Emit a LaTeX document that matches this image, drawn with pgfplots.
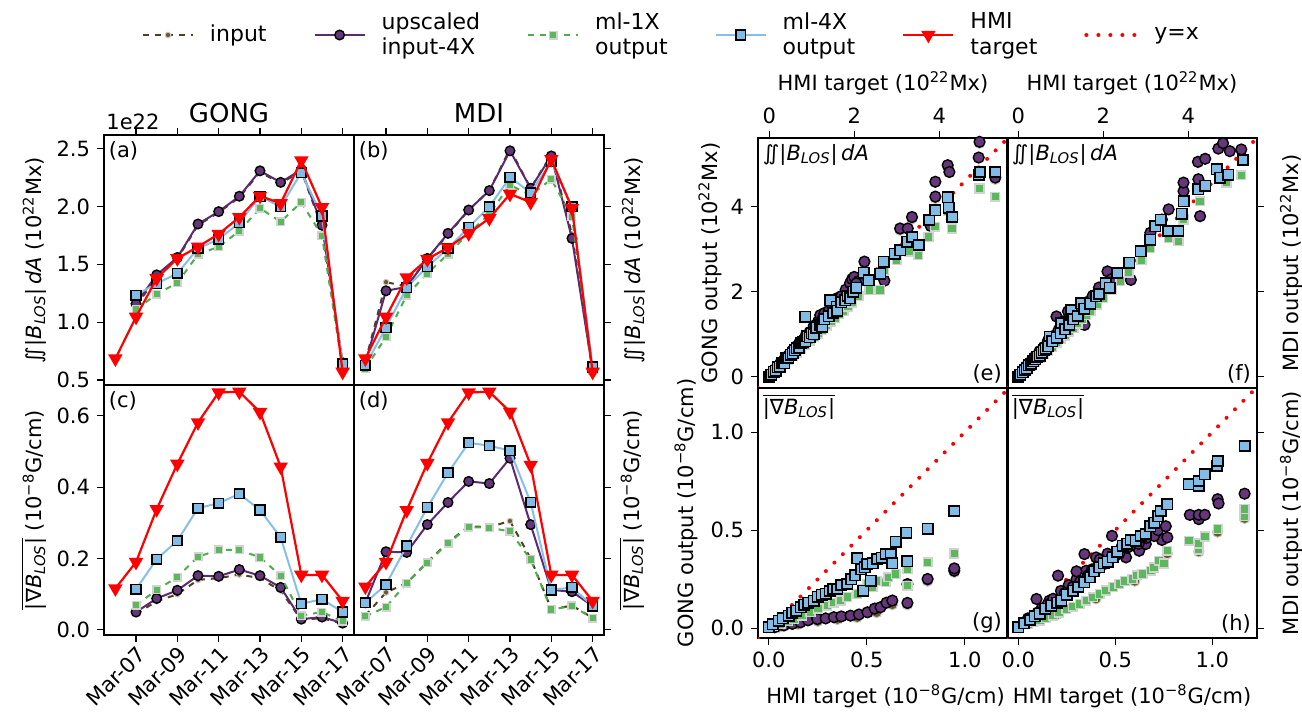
\documentclass[border=0pt]{standalone}
\usepackage{pgfplots}
\pgfplotsset{compat=1.18}
\usepackage{pgfplotstable}
\usepackage{fontspec}
\setmainfont{DejaVu Sans}

\definecolor{inL}{HTML}{4F4020}
\definecolor{inF}{HTML}{6B5A25}
\definecolor{upL}{HTML}{5B2A70}
\definecolor{upF}{HTML}{66367A}
\definecolor{gL}{HTML}{4CAF4C}
\definecolor{gF}{HTML}{5CB85C}
\definecolor{bL}{HTML}{86BFE8}
\definecolor{bF}{HTML}{80BCE6}

\newcommand{\BLOS}{\textit{B}\textsubscript{\textit{LOS}}}
\newcommand{\flux}{∬|\BLOS|\,\textit{dA}}
\newcommand{\gradB}{$\overline{\hbox{|∇\BLOS|}}$}
\newcommand{\fsz}{\fontsize{10.5}{12.6}\selectfont}
\newcommand{\lfsz}{\fontsize{11}{12.8}\selectfont}

\pgfplotsset{
 base/.style={scale only axis, width=125pt, height=125pt, anchor=south west, clip mode=individual,
   axis line style={line width=0.7pt}, tick style={black, line width=0.6pt}, major tick length=3.5pt, tick align=outside,
   ticklabel style={font=\fsz}, label style={font=\fsz, inner sep=0pt},
   /pgf/number format/assume math mode=true,
   legend image code/.code={\path (-23.5pt,0pt) (33pt,0pt); \draw[mark repeat=2,mark phase=2] plot coordinates {(0pt,0pt) (12.5pt,0pt) (25pt,0pt)};},
 },
 ts/.style={base, xmin=5.45, xmax=17.55, xtick={7,9,11,13,15,17}},
 fluxY/.style={ymin=0.457, ymax=2.62, ytick={0.5,1,1.5,2,2.5}},
 gradY/.style={ymin=-0.0143, ymax=0.686, ytick={0,0.2,0.4,0.6}},
 oneDecY/.style={yticklabel style={/pgf/number format/.cd, fixed, fixed zerofill, precision=1}},
 oneDecX/.style={xticklabel style={/pgf/number format/.cd, fixed, fixed zerofill, precision=1}},
 sIn/.style={color=inL, dashed, line width=1pt, mark=*, mark size=1.4pt, mark options={solid, fill=inF, draw=gray!45, line width=0.5pt}},
 sUp/.style={color=upL, solid, line width=1pt, mark=*, mark size=2.4pt, mark options={solid, fill=upF, draw=black, line width=0.7pt}},
 sG/.style={color=gL, dashed, line width=1pt, mark=square*, mark size=1.9pt, mark options={solid, fill=gF, draw=gray!35, line width=0.7pt}},
 sB/.style={color=bL, solid, line width=1pt, mark=square*, mark size=2.4pt, mark options={solid, fill=bF, draw=black, line width=0.8pt}},
 sR/.style={color=red, solid, line width=1.1pt, mark=triangle*, mark size=3.1pt, mark options={solid, fill=red, draw=red, rotate=180}},
 yx/.style={red, line width=2pt, line cap=round, dash pattern=on 0pt off 6pt},
 scIn/.style={sIn, only marks, mark size=2.6pt},
 scUp/.style={sUp, only marks, mark size=2.7pt},
 scG/.style={sG, only marks, mark size=2.2pt},
 scB/.style={sB, only marks, mark size=2.6pt},
}

\pgfplotstableread{
day inp up g b r
6 nan nan nan nan 0.685
7 1.14 1.16 1.11 1.234 1.046
8 1.39 1.41 1.243 1.335 1.379
9 1.55 1.56 1.341 1.422 1.552
10 1.84 1.85 1.587 1.639 1.653
11 1.95 1.957 1.653 1.717 1.763
12 2.08 2.09 1.789 1.861 1.908
13 2.30 2.31 1.986 2.087 2.092
14 2.20 2.21 1.87 2.0 2.029
15 2.31 2.32 2.038 2.295 2.399
16 1.82 1.84 1.749 1.919 1.994
17 0.64 0.65 0.60 0.64 0.57
}\gongflux

\pgfplotstableread{
day inp up g b r
6 0.66 0.65 0.60 0.627 0.685
7 1.347 1.272 0.873 0.954 1.046
8 1.31 1.306 1.234 1.30 1.387
9 1.55 1.552 1.422 1.48 1.546
10 1.76 1.769 1.59 1.639 1.647
11 1.97 1.971 1.769 1.821 1.769
12 2.14 2.139 1.936 2.0 1.899
13 2.50 2.483 2.188 2.254 2.11
14 2.16 2.159 2.10 2.121 2.038
15 2.45 2.439 2.237 2.39 2.41
16 1.76 1.725 1.913 2.0 1.986
17 0.58 0.58 0.58 0.613 0.57
}\mdiflux

\pgfplotstableread{
day inp up g b r
6 nan nan nan nan 0.116
7 0.045 0.05 0.069 0.114 0.19
8 0.08 0.088 0.112 0.198 0.338
9 0.10 0.111 0.148 0.25 0.465
10 0.14 0.152 0.205 0.341 0.581
11 0.145 0.15 0.224 0.355 0.665
12 0.155 0.169 0.224 0.381 0.667
13 0.145 0.152 0.203 0.336 0.61
14 0.11 0.119 0.152 0.259 0.457
15 0.028 0.03 0.04 0.073 0.154
16 0.033 0.036 0.05 0.086 0.154
17 0.017 0.019 0.024 0.05 0.081
}\gonggrad

\pgfplotstableread{
day inp up g b r
6 0.04 0.076 0.038 0.076 0.121
7 0.105 0.219 0.064 0.127 0.19
8 0.131 0.217 0.131 0.235 0.335
9 0.19 0.295 0.188 0.343 0.467
10 0.245 0.357 0.243 0.44 0.581
11 0.29 0.416 0.288 0.524 0.665
12 0.288 0.41 0.286 0.516 0.667
13 0.305 0.481 0.276 0.502 0.611
14 0.2 0.295 0.197 0.357 0.462
15 0.058 0.112 0.057 0.112 0.154
16 0.068 0.107 0.067 0.119 0.154
17 0.034 0.067 0.033 0.067 0.081
}\mdigrad

\begin{document}
\begin{tikzpicture}
\useasboundingbox (0,0) rectangle (651pt,362.5pt);

% (a)
\begin{axis}[ts, fluxY, oneDecY, at={(52pt,170pt)}, xtick pos=right, xticklabels={}, ytick pos=left,
  ylabel={\flux\ (10\textsuperscript{22}Mx)}, ylabel style={at={(axis description cs:-0.228,0.5)}, anchor=south},
  legend columns=6,
  legend style={at={(axis description cs:-0.036,1.4)}, anchor=west, draw=none, fill=none, inner sep=0pt, outer sep=0pt,
    font=\lfsz, column sep=0pt, cells={anchor=west, align=left}, nodes={inner sep=0pt}},
]
\addplot[sIn] table[x=day, y=inp] {\gongflux}; \addlegendentry{input}
\addplot[sUp] table[x=day, y=up] {\gongflux}; \addlegendentry{upscaled\\input-4X}
\addplot[sG] table[x=day, y=g] {\gongflux}; \addlegendentry{ml-1X\\output}
\addplot[sB] table[x=day, y=b] {\gongflux}; \addlegendentry{ml-4X\\output}
\addplot[sR] table[x=day, y=r] {\gongflux}; \addlegendentry{HMI\\target}
\addlegendimage{yx} \addlegendentry{y=x}
\node[anchor=north west, font=\fsz, inner sep=1pt] at (rel axis cs:0.01,0.985) {(a)};
\node[anchor=base, font=\fontsize{13}{15}\selectfont, yshift=6.5pt] at (rel axis cs:0.5,1) {GONG};
\node[anchor=south west, font=\fsz, inner sep=0pt, yshift=2.5pt, xshift=1pt] at (rel axis cs:0,1) {1e22};
\end{axis}

% (b)
\begin{axis}[ts, fluxY, at={(177pt,170pt)}, xtick pos=right, xticklabels={}, ytick pos=right, yticklabels={},
  ylabel={\flux\ (10\textsuperscript{22}Mx)}, ylabel style={at={(axis description cs:1.07,0.5)}, anchor=north},
]
\addplot[sIn] table[x=day, y=inp] {\mdiflux};
\addplot[sUp] table[x=day, y=up] {\mdiflux};
\addplot[sG] table[x=day, y=g] {\mdiflux};
\addplot[sB] table[x=day, y=b] {\mdiflux};
\addplot[sR] table[x=day, y=r] {\mdiflux};
\node[anchor=north west, font=\fsz, inner sep=1pt] at (rel axis cs:0.01,0.985) {(b)};
\node[anchor=base, font=\fontsize{13}{15}\selectfont, yshift=6.5pt] at (rel axis cs:0.5,1) {MDI};
\end{axis}

% (c)
\begin{axis}[ts, gradY, oneDecY, at={(52pt,45pt)}, xtick pos=left, ytick pos=left,
  xticklabels={Mar-07,Mar-09,Mar-11,Mar-13,Mar-15,Mar-17},
  xticklabel style={rotate=45, anchor=north east, inner sep=1pt},
  ylabel={\gradB\ (10\textsuperscript{−8}G/cm)}, ylabel style={at={(axis description cs:-0.228,0.5)}, anchor=south},
]
\addplot[sIn] table[x=day, y=inp] {\gonggrad};
\addplot[sUp] table[x=day, y=up] {\gonggrad};
\addplot[sG] table[x=day, y=g] {\gonggrad};
\addplot[sB] table[x=day, y=b] {\gonggrad};
\addplot[sR] table[x=day, y=r] {\gonggrad};
\node[anchor=north west, font=\fsz, inner sep=1pt] at (rel axis cs:0.01,0.985) {(c)};
\end{axis}

% (d)
\begin{axis}[ts, gradY, at={(177pt,45pt)}, xtick pos=left, ytick pos=right, yticklabels={},
  xticklabels={Mar-07,Mar-09,Mar-11,Mar-13,Mar-15,Mar-17},
  xticklabel style={rotate=45, anchor=north east, inner sep=1pt},
  ylabel={\gradB\ (10\textsuperscript{−8}G/cm)}, ylabel style={at={(axis description cs:1.06,0.5)}, anchor=north},
]
\addplot[sIn] table[x=day, y=inp] {\mdigrad};
\addplot[sUp] table[x=day, y=up] {\mdigrad};
\addplot[sG] table[x=day, y=g] {\mdigrad};
\addplot[sB] table[x=day, y=b] {\mdigrad};
\addplot[sR] table[x=day, y=r] {\mdigrad};
\node[anchor=north west, font=\fsz, inner sep=1pt] at (rel axis cs:0.01,0.985) {(d)};
\end{axis}

% (e)
\begin{axis}[base, at={(379pt,168.5pt)}, xmin=-0.265, xmax=5.62, ymin=-0.265, ymax=5.62,
  xtick={0,2,4}, ytick={0,2,4}, xtick pos=right, xticklabel pos=right, ytick pos=left,
  xlabel={HMI target (10\textsuperscript{22}Mx)}, xlabel style={at={(axis description cs:0.5,1.192)}, anchor=base},
  ylabel={GONG output (10\textsuperscript{22}Mx)}, ylabel style={at={(axis description cs:-0.144,0.5)}, anchor=south},
]
\addplot[yx] coordinates {(-0.265,-0.265) (5.62,5.62)};
\addplot[scIn] coordinates {(0.1,0.11) (0.3,0.33) (0.5,0.55) (0.7,0.75) (0.9,0.98) (1.1,1.2) (1.3,1.45) (1.5,1.6) (1.7,1.85) (1.9,2.1) (2.24,2.68) (3.08,3.45) (3.36,3.72) (3.91,4.2) (4.2,4.95) (4.95,5.5) (5.32,4.65)};
\addplot[scUp] coordinates {(0.05,0.06) (0.15,0.18) (0.25,0.3) (0.35,0.4) (0.45,0.5) (0.55,0.62) (0.65,0.72) (0.75,0.8) (0.85,0.95) (0.95,1.05) (1.05,1.2) (1.15,1.3) (1.2,1.45) (1.3,1.5) (1.45,1.6) (1.55,1.75) (1.6,1.85) (1.7,1.9) (1.8,2.05) (1.9,2.2) (1.95,2.3) (2.0,2.35) (2.1,2.25) (2.24,2.71) (2.71,2.26) (3.08,3.49) (3.26,3.49) (3.36,3.76) (3.91,4.24) (3.91,4.59) (4.2,4.98) (4.24,4.82) (4.93,5.16) (4.95,5.53) (5.32,4.69) (3.8,3.55) (4.3,3.7) (1.25,1.35) (1.4,1.55) (0.7,0.78) (2.05,2.2)};
\addplot[scG] coordinates {(0.05,0.04) (0.15,0.13) (0.25,0.22) (0.35,0.31) (0.45,0.4) (0.55,0.48) (0.65,0.57) (0.75,0.66) (0.85,0.75) (0.95,0.85) (1.05,0.93) (1.15,1.02) (1.25,1.1) (1.35,1.2) (1.45,1.3) (1.55,1.38) (1.65,1.47) (1.75,1.55) (1.85,1.65) (1.95,1.75) (2.1,1.9) (2.36,2.04) (2.61,2.04) (2.7,2.5) (3.0,2.75) (3.3,2.95) (3.51,2.86) (3.75,3.29) (3.9,3.53) (4.3,3.49) (4.95,4.43) (5.32,4.24) (4.2,3.9)};
\addplot[scB] coordinates {(0,0) (0.05,0.05) (0.1,0.12) (0.15,0.14) (0.2,0.22) (0.25,0.24) (0.3,0.33) (0.35,0.32) (0.4,0.43) (0.45,0.44) (0.5,0.52) (0.55,0.55) (0.6,0.62) (0.65,0.67) (0.7,0.68) (0.75,0.8) (0.8,0.82) (0.85,0.83) (0.9,0.95) (0.95,0.93) (1.0,1.02) (1.05,1.0) (1.1,1.15) (1.2,1.22) (1.25,1.18) (1.3,1.35) (1.4,1.42) (1.44,1.8) (0.85,1.41) (1.5,1.5) (1.59,1.65) (1.6,1.55) (1.7,1.75) (1.79,1.8) (1.85,1.9) (1.9,1.85) (1.98,2.0) (2.05,2.1) (2.22,2.45) (2.34,2.27) (2.61,2.43) (2.69,2.71) (2.95,2.9) (3.08,2.98) (3.24,3.18) (3.37,3.29) (3.52,3.1) (3.77,3.69) (3.91,3.92) (4.2,4.22) (4.22,3.98) (4.31,3.76) (4.93,4.75) (4.96,4.82) (5.32,4.82)};
\node[anchor=north west, font=\fsz, inner sep=1pt] at (rel axis cs:0.01,0.985) {\flux};
\node[anchor=south east, font=\fsz, inner sep=1pt] at (rel axis cs:0.985,0.01) {(e)};
\end{axis}

% (f)
\begin{axis}[base, at={(503.5pt,168.5pt)}, xmin=-0.265, xmax=5.62, ymin=-0.265, ymax=5.62,
  xtick={0,2,4}, ytick={0,2,4}, xtick pos=right, xticklabel pos=right, ytick pos=right, yticklabels={},
  xlabel={HMI target (10\textsuperscript{22}Mx)}, xlabel style={at={(axis description cs:0.5,1.192)}, anchor=base},
  ylabel={MDI output (10\textsuperscript{22}Mx)}, ylabel style={at={(axis description cs:1.09,0.5)}, anchor=north},
]
\addplot[yx] coordinates {(-0.265,-0.265) (5.62,5.62)};
\addplot[scIn] coordinates {(0.2,0.24) (0.5,0.58) (0.9,1.4) (1.17,1.52) (2.1,2.46) (3.11,3.37) (3.89,4.35) (4.23,5.04) (4.82,5.47) (5.25,5.33)};
\addplot[scUp] coordinates {(0.1,0.12) (0.2,0.25) (0.3,0.35) (0.4,0.48) (0.5,0.6) (0.6,0.7) (0.7,0.85) (0.8,0.95) (0.9,1.42) (0.95,1.1) (1.05,1.3) (1.17,1.54) (1.25,1.4) (1.35,1.55) (1.56,1.22) (1.6,1.75) (1.75,1.9) (1.9,2.1) (2.1,2.48) (2.2,2.3) (2.65,2.28) (3.11,3.39) (3.38,3.7) (3.54,3.94) (3.89,4.37) (3.89,4.57) (4.24,4.65) (4.28,3.78) (4.23,5.06) (4.4,5.13) (4.71,5.37) (4.82,5.5) (4.98,5.31) (5.25,5.35)};
\addplot[scG] coordinates {(0.1,0.08) (0.2,0.17) (0.3,0.26) (0.4,0.35) (0.5,0.44) (0.6,0.53) (0.7,0.62) (0.8,0.7) (0.9,0.8) (1.0,0.88) (1.1,0.97) (1.2,1.06) (1.3,1.15) (1.4,1.25) (1.5,1.35) (1.6,1.45) (1.7,1.55) (1.85,1.7) (2.0,1.85) (2.2,2.05) (2.4,2.25) (2.6,2.45) (2.9,2.75) (3.11,3.03) (3.54,3.27) (3.77,3.19) (3.89,3.7) (4.28,4.13) (4.9,4.57) (5.25,4.74)};
\addplot[scB] coordinates {(0,0.0) (0.05,0.05) (0.1,0.1) (0.15,0.16) (0.2,0.2) (0.25,0.27) (0.3,0.3) (0.35,0.36) (0.4,0.41) (0.45,0.47) (0.5,0.5) (0.55,0.57) (0.6,0.62) (0.65,0.66) (0.74,0.94) (0.7,0.72) (0.8,0.83) (0.9,0.92) (1.01,1.26) (1.0,1.02) (1.1,1.12) (1.25,1.57) (1.2,1.22) (1.3,1.35) (1.4,1.43) (1.48,1.73) (1.55,1.6) (1.7,1.72) (1.83,1.89) (1.9,1.95) (2.06,2.2) (2.15,2.1) (2.33,2.44) (2.61,2.68) (2.88,2.95) (3.11,3.23) (3.23,3.54) (3.35,3.7) (3.53,3.43) (3.77,3.43) (3.85,3.84) (3.89,4.13) (4.24,4.41) (4.4,4.5) (4.67,4.88) (4.75,4.69) (4.94,4.76) (5.29,5.1)};
\node[anchor=north west, font=\fsz, inner sep=1pt] at (rel axis cs:0.01,0.985) {\flux};
\node[anchor=south east, font=\fsz, inner sep=1pt] at (rel axis cs:0.985,0.01) {(f)};
\end{axis}

% (g)
\begin{axis}[base, oneDecX, oneDecY, at={(379pt,43.5pt)}, xmin=-0.055, xmax=1.22, ymin=-0.05, ymax=1.225,
  xtick={0,0.5,1}, ytick={0,0.5,1}, xtick pos=left, ytick pos=left,
  xlabel={HMI target (10\textsuperscript{−8}G/cm)}, xlabel style={at={(axis description cs:0.51,-0.26)}, anchor=base},
  ylabel={GONG output (10\textsuperscript{−8}G/cm)}, ylabel style={at={(axis description cs:-0.24,0.5)}, anchor=south},
]
\addplot[yx] coordinates {(-0.055,-0.055) (1.225,1.225)};
\addplot[scIn] coordinates {(0.05,0.005) (0.15,0.02) (0.25,0.035) (0.35,0.045) (0.45,0.055) (0.55,0.08) (0.63,0.12) (0.707,0.12) (0.81,0.24) (0.946,0.285)};
\addplot[scUp] coordinates {(0.03,0.005) (0.077,0.014) (0.12,0.022) (0.162,0.03) (0.2,0.04) (0.247,0.047) (0.29,0.05) (0.332,0.056) (0.37,0.06) (0.417,0.064) (0.46,0.07) (0.503,0.081) (0.54,0.1) (0.57,0.107) (0.6,0.13) (0.63,0.141) (0.707,0.129) (0.707,0.225) (0.81,0.251) (0.946,0.293) (0.946,0.305)};
\addplot[scG] coordinates {(0.02,0.01) (0.06,0.022) (0.1,0.035) (0.128,0.047) (0.17,0.065) (0.213,0.081) (0.25,0.1) (0.298,0.115) (0.33,0.13) (0.366,0.141) (0.4,0.16) (0.451,0.175) (0.48,0.2) (0.503,0.225) (0.53,0.21) (0.55,0.24) (0.596,0.234) (0.61,0.26) (0.647,0.276) (0.707,0.217) (0.707,0.302) (0.81,0.336) (0.946,0.381)};
\addplot[scB] coordinates {(0,0.005) (0.02,0.02) (0.051,0.039) (0.07,0.05) (0.102,0.064) (0.12,0.08) (0.14,0.09) (0.162,0.107) (0.18,0.12) (0.2,0.13) (0.23,0.141) (0.25,0.16) (0.27,0.17) (0.29,0.175) (0.31,0.19) (0.33,0.2) (0.349,0.2) (0.37,0.22) (0.4,0.225) (0.42,0.25) (0.44,0.27) (0.451,0.356) (0.47,0.3) (0.482,0.192) (0.49,0.31) (0.503,0.327) (0.52,0.242) (0.53,0.33) (0.554,0.353) (0.575,0.36) (0.596,0.378) (0.622,0.378) (0.63,0.33) (0.647,0.442) (0.702,0.488) (0.707,0.341) (0.81,0.508) (0.946,0.598)};
\node[anchor=north west, font=\fsz, inner sep=1pt] at (rel axis cs:0.01,0.985) {\gradB};
\node[anchor=south east, font=\fsz, inner sep=1pt] at (rel axis cs:0.985,0.01) {(g)};
\end{axis}

% (h)
\begin{axis}[base, oneDecX, at={(503.5pt,43.5pt)}, xmin=-0.058, xmax=1.23, ymin=-0.05, ymax=1.225,
  xtick={0,0.5,1}, ytick={0,0.5,1}, xtick pos=left, ytick pos=right, yticklabels={},
  xlabel={HMI target (10\textsuperscript{−8}G/cm)}, xlabel style={at={(axis description cs:0.5,-0.26)}, anchor=base},
  ylabel={MDI output (10\textsuperscript{−8}G/cm)}, ylabel style={at={(axis description cs:1.09,0.5)}, anchor=north},
]
\addplot[yx] coordinates {(-0.058,-0.058) (1.23,1.23)};
\addplot[scIn] coordinates {(0.2,0.07) (0.4,0.15) (0.6,0.24) (0.768,0.38) (0.93,0.39) (1.027,0.49) (1.166,0.56)};
\addplot[scUp] coordinates {(0.05,0.05) (0.094,0.149) (0.12,0.1) (0.16,0.14) (0.205,0.268) (0.22,0.19) (0.26,0.22) (0.3,0.25) (0.341,0.378) (0.35,0.293) (0.38,0.3) (0.401,0.361) (0.43,0.33) (0.46,0.38) (0.483,0.471) (0.5,0.37) (0.53,0.41) (0.555,0.361) (0.58,0.42) (0.623,0.395) (0.64,0.44) (0.657,0.429) (0.708,0.488) (0.74,0.45) (0.768,0.463) (0.884,0.578) (0.93,0.556) (0.93,0.578) (0.961,0.578) (1.027,0.658) (1.032,0.636) (1.166,0.686) (0.1,0.08) (0.15,0.12) (0.18,0.15) (0.24,0.18) (0.28,0.21) (0.32,0.24) (0.36,0.27) (0.4,0.3) (0.45,0.33) (0.48,0.36) (0.52,0.38) (0.56,0.41) (0.6,0.44) (0.62,0.43) (0.66,0.46) (0.7,0.47) (0.72,0.5) (0.76,0.52) (0.3,0.29) (0.42,0.35)};
\addplot[scG] coordinates {(0.05,0.02) (0.08,0.03) (0.111,0.039) (0.14,0.05) (0.179,0.064) (0.21,0.08) (0.247,0.098) (0.28,0.11) (0.316,0.124) (0.35,0.14) (0.384,0.158) (0.42,0.175) (0.452,0.192) (0.49,0.21) (0.52,0.225) (0.55,0.24) (0.589,0.251) (0.61,0.27) (0.64,0.276) (0.683,0.293) (0.7,0.31) (0.725,0.344) (0.75,0.33) (0.768,0.395) (0.879,0.446) (0.93,0.4) (0.93,0.432) (0.961,0.468) (1.027,0.505) (1.166,0.573) (1.166,0.607)};
\addplot[scB] coordinates {(0,0.005) (0.03,0.025) (0.06,0.042) (0.085,0.06) (0.111,0.073) (0.14,0.1) (0.171,0.115) (0.2,0.13) (0.222,0.141) (0.25,0.17) (0.282,0.192) (0.31,0.21) (0.341,0.234) (0.37,0.26) (0.39,0.29) (0.418,0.31) (0.44,0.33) (0.46,0.34) (0.486,0.361) (0.51,0.39) (0.538,0.42) (0.56,0.43) (0.58,0.45) (0.606,0.446) (0.63,0.47) (0.657,0.48) (0.68,0.52) (0.7,0.539) (0.72,0.57) (0.734,0.598) (0.768,0.632) (0.879,0.734) (0.93,0.725) (0.93,0.751) (0.961,0.785) (1.024,0.827) (1.027,0.853) (1.166,0.929)};
\node[anchor=north west, font=\fsz, inner sep=1pt] at (rel axis cs:0.01,0.985) {\gradB};
\node[anchor=south east, font=\fsz, inner sep=1pt] at (rel axis cs:0.985,0.01) {(h)};
\end{axis}
\end{tikzpicture}
\end{document}
